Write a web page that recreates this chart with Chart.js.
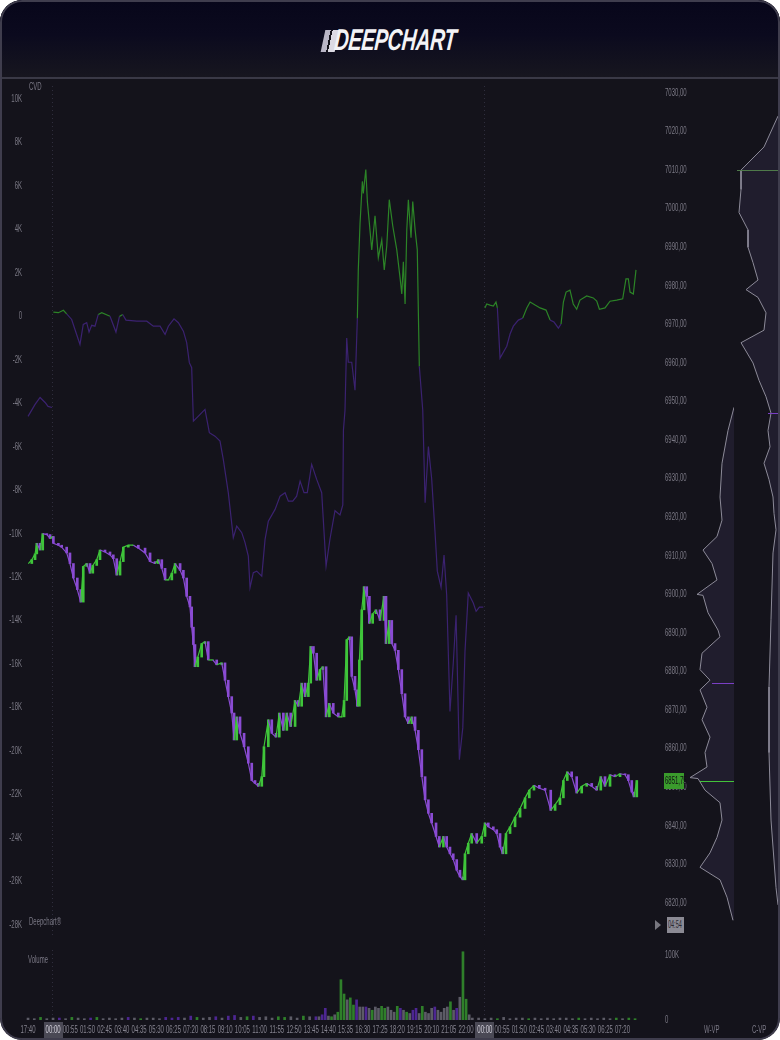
<!DOCTYPE html>
<html>
<head>
<meta charset="utf-8">
<script src="https://cdn.jsdelivr.net/npm/chart.js@4.4.0/dist/chart.umd.min.js"></script>
<style>
  html, body { margin: 0; padding: 0; background: #ffffff; }
  #frame { position: relative; width: 780px; height: 1040px; border-radius: 22px; overflow: hidden; background: #14131b;
           font-family: "Liberation Sans", Arial, sans-serif; }
  #header { position: absolute; left: 0; top: 0; width: 780px; height: 77px;
            background: linear-gradient(#07061a 0%, #0b0a1e 45%, #17161f 100%); border-bottom: 2px solid #3a3946; }
  #logoIcon { position: absolute; left: 323px; top: 30px; width: 14px; height: 22px; transform: skewX(-12deg);
              background: linear-gradient(90deg, #b9b6c6 0 38%, #14131b 38% 52%, #dcdae3 52% 100%); }
  #logoText { position: absolute; left: 336px; top: 23px; font: italic bold 30px "Liberation Sans", Arial, sans-serif;
              color: #f3f3f6; letter-spacing: -0.5px; transform-origin: 0 0; transform: scaleX(0.67) skewX(-8deg); }
  #border { position: absolute; left: 0; top: 0; width: 780px; height: 1040px; box-sizing: border-box; border: 2px solid #3f3d4d;
            border-radius: 22px; pointer-events: none; }
  canvas { position: absolute; }
  .lbl { position: absolute; color: #7a7885; font-size: 10px; white-space: nowrap; transform-origin: 0 0; transform: scaleX(0.6); }
  #timer { position: absolute; left: 667px; top: 917px; width: 17px; height: 16px; background: #8b8a94; }
  #timer span { position: absolute; left: 1px; top: 2px; color: #2a2930; font-size: 10px; transform-origin: 0 0; transform: scaleX(0.55); }
  #tri { position: absolute; left: 655px; top: 920px; width: 0; height: 0; border-top: 5px solid transparent;
         border-bottom: 5px solid transparent; border-left: 6px solid #77767f; }
</style>
</head>
<body>
<div id="frame">
  <div id="header"><div id="logoIcon"></div><div id="logoText">DEEPCHART</div></div>
  <canvas id="main" width="690" height="860" style="left:0;top:80px"></canvas>
  <canvas id="vol" width="690" height="100" style="left:0;top:940px"></canvas>
  <canvas id="wvp" width="48" height="860" style="left:686px;top:80px"></canvas>
  <canvas id="cvp" width="42" height="860" style="left:736px;top:80px"></canvas>
  <div class="lbl" style="left:29px;top:81px">CVD</div>
  <div class="lbl" style="left:29px;top:916px">Deepchart®</div>
  <div class="lbl" style="left:28px;top:954px">Volume</div>
  <div class="lbl" style="left:704px;top:1024px">W-VP</div>
  <div class="lbl" style="left:752px;top:1024px">C-VP</div>
  <div id="tri"></div>
  <div id="timer"><span>04:54</span></div>
  <div id="border"></div>
</div>
<script>
// bar index: one bar = 5 minutes, 0 = 17:40 of the first (short) session
const timeTickIdx = [0, 16, 27, 38, 49, 60, 71, 82, 93, 104, 115, 126, 137, 148, 159, 170, 181, 192, 203, 214, 225,
  236, 247, 258, 269, 280, 292, 303, 314, 325, 336, 347, 358, 369, 380];
const timeTickLabels = ['17:40', '00:00', '00:55', '01:50', '02:45', '03:40', '04:35', '05:30', '06:25', '07:20', '08:15',
  '09:10', '10:05', '11:00', '11:55', '12:50', '13:45', '14:40', '15:35', '16:30', '17:25', '18:20', '19:15', '20:10',
  '21:05', '22:00', '00:00', '00:55', '01:50', '02:45', '03:40', '04:35', '05:30', '06:25', '07:20'];
const sessionBreaks = [15.5, 291.5];

// CVD (cumulative volume delta), resets each session -> null = gap
const cvdIdx = [0, 4.5, 7.7, 10.9, 12.8, 15.3, 15.6,
  16.2, 19.4, 22.6, 24.7, 27.9, 30.0, 33.2, 35.3, 37.5, 39.0, 40.7, 42.8, 44.9, 47.1, 52.4, 56.2, 58.4, 60.5, 62.6,
  69.5, 75.9, 80.1, 84.4, 87.6, 89.7, 93.3, 96.1, 99.3, 101.4, 103.1, 104.6, 105.7, 108.9, 113.1, 115.9, 119.5, 122.7,
  124.8, 128.0, 131.2, 133.4, 136.6, 138.7, 140.8, 141.9, 144.0, 146.2, 149.4, 151.5, 153.6, 157.9, 161.1, 164.3, 166.4,
  169.2, 171.7, 173.9, 176.4, 178.5, 181.3, 184.5, 187.7, 190.5, 193.0, 196.2, 199.4, 201.2, 201.6, 202.6, 203.7, 204.7,
  206.9, 209.0, 210.5, 211.1, 212.2, 213.7, 214.3, 215.9, 216.9, 218.2, 219.7, 221.8, 223.9, 226.1, 227.7, 229.3, 230.9,
  233.1, 235.7, 237.8, 238.9, 239.9, 241.0, 242.1, 243.1, 244.8, 245.9, 247.4, 248.8, 250.1, 252.3, 253.8, 255.9, 258.0,
  260.1, 261.6, 264.0, 265.9, 267.6, 269.7, 271.8, 273.6, 275.7, 277.9, 279.3, 281.4, 284.6, 286.4, 288.5, 291.0, 291.4,
  292.0, 293.2, 295.3, 297.4, 299.1, 300.0, 301.7, 303.8, 306.0, 308.1, 310.2, 313.4, 316.2, 318.8, 320.9, 324.1, 327.3,
  331.1, 333.7, 336.2, 339.0, 340.7, 342.2, 343.9, 346.4, 348.5, 350.7, 352.8, 357.1, 361.3, 363.5, 365.2, 368.8, 372.0,
  376.3, 380.1, 382.2, 383.7, 384.8, 386.9, 388.6];
const cvdValues = [-4600, -4050, -3730, -3960, -4140, -4190, null,
  200, 170, 280, 120, -140, -600, -1290, -370, -290, -720, -410, -450, 90, 170, 10, -720, -10, 90, -170,
  -220, -220, -450, -450, -830, -450, -110, -290, -680, -1210, -2130, -2360, -4820, -4590, -4280, -5350, -5510, -5740,
  -6580, -8110, -10180, -9650, -9950, -10410, -11030, -12480, -11790, -11720, -11950, -10260, -9420, -8880, -8270, -8110, -8500,
  -8500, -8270, -7580, -8110, -8110, -6810, -7500, -8110, -11490, -10240, -8940, -9130, -8670, -5240, -4320, -1000, -2110,
  -2110, -3400, -80, 2140, 4260, 6210, 5660, 6760, 5280, 4260, 3060, 4630, 2700, 3520, 2140, 3250, 5370,
  4170, 3060, 1770, 1030, 2510, 570, 3990, 5370, 3620, 5280, 3990, 3060, -2300, -4320, -8570, -5990, -7470,
  -9870, -11720, -12460, -10980, -12830, -18180, -15960, -13750, -20400, -18920, -15410, -12730, -13190, -13570, -13380, -13380, null,
  390, 570, 520, 480, 660, 390, -1920, -1650, -1370, -810, -450, -170, -80, 390, 660, 520, 390,
  290, -170, -260, -540, -350, 660, 1120, 1210, 570, 330, 750, 940, 850, 700, 330, 390, 700,
  750, 810, 1730, 1730, 1120, 1030, 2140];

// price (ES, close of bars)
const priceIdx = [0.2, 2.4, 4.5, 5.6, 7.7, 9.4, 12.0, 14.1, 15.8, 16.2, 19.4, 21.5, 24.7, 26.8, 29.0, 31.5, 33.7, 35.3, 37.5, 39.6,
  41.4, 43.9, 46.0, 49.2, 52.4, 54.5, 56.7, 58.8, 60.9, 64.1, 67.3, 70.5, 74.8, 78.0, 81.2, 83.3, 85.5, 87.6, 89.7, 91.9,
  94.0, 97.2, 99.3, 101.4, 103.5, 104.6, 105.7, 106.7, 108.5, 111.0, 113.1, 115.2, 118.1, 120.6, 123.8, 125.9, 128.0, 130.2, 131.7, 133.4,
  135.5, 138.1, 140.8, 143.0, 145.1, 147.2, 149.4, 150.8, 153.6, 155.8, 158.5, 160.6, 163.2, 165.4, 167.9, 170.7, 172.8, 174.9, 177.1, 179.2,
  180.7, 182.4, 184.5, 186.6, 188.4, 190.5, 192.6, 195.1, 198.3, 200.5, 202.0, 203.7, 205.4, 206.9, 209.0, 210.5, 211.8, 213.3, 214.8, 216.5,
  218.2, 220.3, 222.4, 225.0, 227.5, 228.8, 230.9, 232.5, 234.6, 236.7, 238.9, 241.0, 243.1, 245.3, 247.4, 249.5, 251.7, 253.8, 255.9, 258.0,
  260.8, 262.9, 265.5, 267.6, 269.7, 271.8, 274.0, 276.1, 277.9, 279.3, 281.4, 283.6, 286.8, 290.0, 292.1, 294.2, 297.4, 299.6, 301.7, 303.4,
  305.5, 308.1, 311.3, 314.5, 317.7, 320.4, 323.4, 326.8, 330.5, 334.1, 336.9, 340.0, 342.2, 344.7, 347.5, 350.7, 353.9, 357.1, 360.3, 363.5,
  366.1, 368.8, 372.0, 375.2, 378.4, 381.6, 383.7, 385.9, 387.3, 389.1];
const priceValues = [6908, 6909, 6910.5, 6913.25, 6911.5, 6915.75, 6915.5, 6914.5, 6915, 6913.25,
  6912.75, 6912.25, 6910.75, 6908, 6904.25, 6901.25, 6898, 6907.25, 6908, 6905.5,
  6907.5, 6909, 6911.5, 6911, 6910.25, 6909.25, 6905, 6908.5, 6912.25, 6912.75,
  6912.75, 6912, 6910.75, 6908.5, 6908, 6909, 6906.75, 6903.75, 6903.75, 6905.5,
  6908, 6906.25, 6904.25, 6899.5, 6896.75, 6891.5, 6887, 6881.25, 6883.75, 6887.25,
  6887.75, 6883, 6883, 6881.75, 6882.25, 6877.75, 6873.5, 6869.25, 6862.25, 6868.25,
  6864, 6860.5, 6856.25, 6851.75, 6851, 6850.25, 6852.75, 6860.5, 6867.5, 6864,
  6863, 6869.25, 6864.75, 6869.25, 6865.75, 6872.5, 6871, 6877, 6873.5, 6877,
  6886.5, 6884.75, 6877.75, 6880.5, 6881.25, 6868.25, 6871.75, 6869.25, 6868.25, 6868.25,
  6872.5, 6888.25, 6889, 6878.75, 6875.25, 6871, 6883, 6896, 6902, 6899.5,
  6892.5, 6895, 6896, 6893.25, 6899.5, 6887.25, 6893.25, 6887.25, 6885.5, 6880.5,
  6874.25, 6868.25, 6866.5, 6868.25, 6864.75, 6859.75, 6852.75, 6846.75, 6843.25, 6840.75,
  6837.25, 6834.5, 6837.25, 6834.5, 6832.75, 6831.25, 6828.5, 6826.75, 6826, 6832.75,
  6835.5, 6838, 6835.5, 6837.25, 6840.75, 6839.75, 6839, 6838, 6834.5, 6832.75,
  6838, 6839.75, 6842.25, 6844.5, 6847.25, 6849.25, 6850.5, 6849.75, 6849.25, 6844,
  6845.5, 6847.25, 6851.75, 6854, 6852.75, 6848.5, 6850.25, 6851, 6850.25, 6849.25,
  6852.75, 6850.25, 6853.25, 6852.75, 6853.5, 6853.25, 6851.75, 6848.75, 6847.5, 6851.75];

// volume per bar (g = buy, p = sell, n = neutral)
const volIdx = [0, 4, 8, 12, 16, 20, 24, 28, 32, 36, 40, 44, 48, 52, 56, 60, 64, 68, 72, 76, 80, 84, 88, 92, 96, 100,
  104, 108, 112, 116, 120, 124, 128, 132, 136, 140, 144, 148, 152, 156, 160, 164, 168, 172, 176, 180, 184,
  186, 188, 190, 192, 194, 196, 198, 200, 202, 204, 206, 208, 210, 212, 214, 216, 218, 220, 222, 224, 226, 228, 230,
  232, 234, 236, 238, 240, 242, 244, 246, 248, 250, 252, 254, 256, 258, 260, 262, 264, 266, 268, 270, 272, 274, 276,
  278, 280, 282, 284,
  288, 292, 296, 300, 304, 308, 312, 316, 320, 324, 328, 332, 336, 340, 344, 348, 352, 356, 360, 364, 368, 372, 376,
  380, 384, 388];
const volValues = [3000, 2000, 4000, 2000, 3000, 3000, 2000, 4000, 3000, 2000, 3000, 4000, 2000, 3000, 2000, 3000, 4000,
  3000, 2000, 3000, 3000, 2000, 4000, 3000, 4000, 3000, 6000, 4000, 3000, 4000, 5000, 3000, 6000, 7000, 4000, 5000,
  6000, 4000, 5000, 3000, 5000, 4000, 5000, 3000, 6000, 5000, 5000,
  5000, 8000, 18000, 6000, 5000, 8000, 12000, 62000, 40000, 31000, 34000, 23000, 31000, 20000, 20000, 20000, 18000,
  15000, 20000, 18000, 21000, 18000, 20000, 15000, 12000, 21000, 18000, 15000, 12000, 10000, 15000, 18000, 10000,
  21000, 12000, 10000, 18000, 20000, 15000, 12000, 18000, 20000, 28000, 15000, 18000, 35000, 105000, 32000, 8000, 3000,
  3000, 2000, 3000, 2000, 4000, 2000, 3000, 3000, 2000, 3000, 2000, 3000, 2000, 3000, 3000, 2000, 3000, 2000, 3000,
  2000, 3000, 2000, 3000, 2000, 3000, 2000];
const volSide = ['n', 'n', 'g', 'n', 'n', 'p', 'n', 'g', 'n', 'n', 'p', 'g', 'n', 'n', 'n', 'n', 'p', 'n', 'g', 'n',
  'n', 'n', 'p', 'p', 'p', 'n', 'p', 'g', 'n', 'n', 'p', 'n', 'p', 'p', 'n', 'g', 'p', 'n', 'n', 'n', 'g', 'g', 'n',
  'n', 'g', 'n', 'p',
  'n', 'p', 'p', 'n', 'g', 'n', 'g', 'g', 'g', 'n', 'g', 'g', 'p', 'n', 'n', 'p', 'n', 'g', 'n', 'n', 'g', 'g', 'n',
  'n', 'n', 'g', 'p', 'n', 'g', 'n', 'p', 'p', 'n', 'g', 'n', 'n', 'n', 'p', 'n', 'n', 'n', 'n', 'g', 'n', 'p', 'n',
  'g', 'g', 'n', 'n',
  'n', 'n', 'n', 'g', 'n', 'n', 'n', 'n', 'g', 'n', 'n', 'n', 'n', 'n', 'n', 'n', 'g', 'n', 'n', 'n', 'n', 'n', 'g',
  'n', 'g', 'g'];

// volume profiles by price level (K contracts)
const wvpPrices = [6948.5, 6942.5, 6934, 6925.25, 6919.25, 6915, 6911.5, 6908, 6903.75, 6900, 6899.75, 6895.25, 6890.75,
  6889, 6884.75, 6880.5, 6877.75, 6875.25, 6870.75, 6867.5, 6863, 6859, 6855.25, 6852.5, 6852.25, 6849.25, 6846,
  6841.5, 6837, 6833, 6829.25, 6826, 6821.5, 6815.5];
const wvpVolumes = [0, 6, 12, 14, 12, 17, 31, 22, 17, 37, 31, 26, 16, 14, 32, 34, 24, 34, 27, 32, 24, 29, 27, 44, 36,
  29, 14, 12, 17, 24, 34, 14, 7, 1];
const cvpPrices = [7024, 7016, 7010, 7005, 6999, 6994.5, 6990, 6986, 6981.5, 6979, 6977, 6973, 6968.5, 6965.25, 6960,
  6955.5, 6951.25, 6947, 6942.5, 6938.25, 6934, 6929.75, 6925.25, 6921, 6916.75, 6910.75, 6893.5, 6876, 6859, 6841.5,
  6824, 6819.5];
const cvpVolumes = [0, 14, 37, 37, 39, 30, 30, 25, 20, 32, 20, 12, 14, 37, 25, 19, 12, 7, 10, 8, 14, 9, 5, 4, 2, 5, 7,
  9, 9, 7, 2, 0];
const wvpMarks = [[6877, 22]];
const cvpMarks = [[7010, 41], [6947, 10]];

const cvdTicks = [10000, 8000, 6000, 4000, 2000, 0, -2000, -4000, -6000, -8000, -10000, -12000, -14000, -16000,
  -18000, -20000, -22000, -24000, -26000, -28000];
const priceTicks = [7030, 7020, 7010, 7000, 6990, 6980, 6970, 6960, 6950, 6940, 6930, 6920, 6910, 6900, 6890, 6880,
  6870, 6860, 6850, 6840, 6830, 6820];

// ---- look ----
const X_MIN = -1.3, X_MAX = 406.5;
const PRICE_MIN = 6811.7, PRICE_MAX = 7031.8;
const SQUEEZE = 0.6;                      // the platform uses a very narrow font
const labelFont = '10px "Liberation Sans", Arial, sans-serif';
const tickColor = '#7a7884';
const upColor = '#3fc53a', downColor = '#8a4bd3';
const cvdUp = '#2c8427', cvdDown = '#3b2270';
const volColors = { g: '#2f7f2a', p: '#4d2692', n: '#5c5b66' };
const last = priceValues[priceValues.length - 1];

const fmtK = v => v === 0 ? '0' : (v / 1000) + 'K';
const fmtPrice = v => v.toFixed(2).replace('.', ',');

function narrowText(ctx, text, x, y, align, color, box) {
  ctx.save();
  ctx.font = labelFont;
  ctx.textBaseline = 'middle';
  const w = ctx.measureText(text).width * SQUEEZE;
  const left = align === 'right' ? x - w : align === 'center' ? x - w / 2 : x;
  if (box) {
    ctx.fillStyle = box;
    ctx.fillRect(Math.round(left) - 2, Math.round(y) - 8, Math.round(w) + 4, 16);
  }
  ctx.translate(left, y);
  ctx.scale(SQUEEZE, 1);
  ctx.fillStyle = color;
  ctx.textAlign = 'left';
  ctx.fillText(text, 0, 0);
  ctx.restore();
}

// draws the tick labels of the given axes with the narrow look
function tickPainter(axes) {
  return {
    id: 'tickPainter',
    afterDraw(chart) {
      const { ctx, chartArea } = chart;
      axes.forEach(a => {
        const scale = chart.scales[a.id];
        scale.ticks.forEach((t, i) => {
          const p = scale.getPixelForValue(t.value);
          const text = a.format(t.value, i);
          if (scale.isHorizontal()) {
            const special = text === '00:00';
            narrowText(ctx, text, p, chartArea.bottom + 10, 'center', special ? '#d0ced8' : '#85838f', special ? '#4a4955' : null);
          } else if (scale.position === 'left') {
            narrowText(ctx, text, chartArea.left - 4, p, 'right', tickColor);
          } else {
            narrowText(ctx, text, chartArea.right + 1, p, 'left', tickColor);
          }
        });
      });
    }
  };
}

const sessionLines = {
  id: 'sessionLines',
  beforeDatasetsDraw(chart) {
    const { ctx, chartArea, scales: { x } } = chart;
    ctx.save();
    ctx.strokeStyle = '#2f2e3d';
    ctx.setLineDash([1, 3]);
    sessionBreaks.forEach(v => {
      const px = Math.round(x.getPixelForValue(v)) + 0.5;
      ctx.beginPath();
      ctx.moveTo(px, chartArea.top);
      ctx.lineTo(px, chartArea.bottom);
      ctx.stroke();
    });
    ctx.restore();
  }
};

const priceTag = {
  id: 'priceTag',
  afterDraw(chart) {
    const { ctx, chartArea, scales: { yPrice } } = chart;
    const y = Math.round(yPrice.getPixelForValue(last));
    ctx.save();
    ctx.fillStyle = '#3a9b2c';
    ctx.fillRect(chartArea.right, y - 8, 20, 16);
    ctx.restore();
    narrowText(ctx, fmtPrice(last), chartArea.right + 1, y + 0.5, 'left', '#101014');
  }
};

const hiddenTicks = { display: false };

// ---- main pane: CVD (left) + price (right) ----
const candleData = priceIdx.slice(1).map((x, i) => ({ x, y: [priceValues[i], priceValues[i + 1]] }));
new Chart(document.getElementById('main'), {
  type: 'line',
  data: {
    datasets: [
      {
        label: 'Price',
        data: priceIdx.map((x, i) => ({ x, y: priceValues[i] })),
        yAxisID: 'yPrice',
        borderWidth: 1.2,
        pointRadius: 0,
        order: 0,
        segment: { borderColor: c => c.p1.parsed.y >= c.p0.parsed.y ? upColor : downColor }
      },
      {
        type: 'bar',
        label: 'Candles',
        data: candleData,
        yAxisID: 'yPrice',
        barThickness: 2,
        order: 1,
        backgroundColor: candleData.map(d => d.y[1] >= d.y[0] ? upColor : downColor)
      },
      {
        label: 'CVD',
        data: cvdIdx.map((x, i) => ({ x, y: cvdValues[i] })),
        yAxisID: 'yCvd',
        borderWidth: 1.2,
        pointRadius: 0,
        spanGaps: false,
        order: 2,
        segment: { borderColor: c => (c.p0.parsed.y + c.p1.parsed.y) / 2 >= 0 ? cvdUp : cvdDown }
      }
    ]
  },
  options: {
    responsive: false,
    animation: false,
    events: [],
    layout: { autoPadding: false, padding: { top: 6, bottom: 5, left: 0, right: 0 } },
    plugins: { legend: { display: false }, tooltip: { enabled: false } },
    scales: {
      x: { type: 'linear', min: X_MIN, max: X_MAX, display: false, offset: false },
      yCvd: {
        position: 'left', min: -28460, max: 10600,
        afterFit(s) { s.width = 26; },
        afterBuildTicks(s) { s.ticks = cvdTicks.map(v => ({ value: v })); },
        grid: { display: false, drawTicks: false }, border: { display: false }, ticks: hiddenTicks
      },
      yPrice: {
        position: 'right', min: PRICE_MIN, max: PRICE_MAX,
        afterFit(s) { s.width = 26; },
        afterBuildTicks(s) { s.ticks = priceTicks.map(v => ({ value: v })); },
        grid: { display: false, drawTicks: false }, border: { display: false }, ticks: hiddenTicks
      }
    }
  },
  plugins: [sessionLines, tickPainter([
    { id: 'yCvd', format: v => fmtK(v) },
    { id: 'yPrice', format: v => fmtPrice(v) }
  ]), priceTag]
});

// ---- volume pane ----
new Chart(document.getElementById('vol'), {
  type: 'bar',
  data: {
    datasets: [{
      label: 'Volume',
      data: volIdx.map((x, i) => ({ x, y: volValues[i] })),
      yAxisID: 'yVol',
      barThickness: 2,
      backgroundColor: volSide.map(s => volColors[s])
    }]
  },
  options: {
    responsive: false,
    animation: false,
    events: [],
    layout: { autoPadding: false, padding: { top: 10, bottom: 2 } },
    plugins: { legend: { display: false }, tooltip: { enabled: false } },
    scales: {
      x: {
        type: 'linear', min: X_MIN, max: X_MAX, offset: false,
        afterFit(s) { s.height = 18; },
        afterBuildTicks(s) { s.ticks = timeTickIdx.map(v => ({ value: v })); },
        grid: { display: false, drawTicks: false }, border: { display: false }, ticks: hiddenTicks
      },
      yLeft: {
        position: 'left', min: 0, max: 1,
        afterFit(s) { s.width = 26; },
        grid: { display: false, drawTicks: false }, border: { display: false }, ticks: hiddenTicks
      },
      yVol: {
        position: 'right', min: 0, max: 107700,
        afterFit(s) { s.width = 26; },
        afterBuildTicks(s) { s.ticks = [{ value: 0 }, { value: 100000 }]; },
        grid: { display: false, drawTicks: false }, border: { display: false }, ticks: hiddenTicks
      }
    }
  },
  plugins: [sessionLines, tickPainter([
    { id: 'x', format: (v, i) => timeTickLabels[i] },
    { id: 'yVol', format: v => v === 0 ? '0' : '100K' }
  ])]
});

// ---- volume profiles ----
function profile(id, prices, vols, maxVol, marks) {
  const markLines = {
    id: 'markLines',
    afterDatasetsDraw(chart) {
      const { ctx, chartArea, scales: { x, y } } = chart;
      ctx.save();
      marks.forEach(m => {
        const py = Math.round(y.getPixelForValue(m.price)) + 0.5;
        ctx.strokeStyle = m.color;
        ctx.lineWidth = 1;
        ctx.beginPath();
        ctx.moveTo(x.getPixelForValue(m.vol), py);
        ctx.lineTo(chartArea.right, py);
        ctx.stroke();
      });
      ctx.restore();
    }
  };
  new Chart(document.getElementById(id), {
    type: 'line',
    data: {
      datasets: [{
        data: prices.map((p, i) => ({ x: vols[i], y: p })),
        borderColor: '#8d8b99',
        borderWidth: 1,
        pointRadius: 0,
        fill: 'origin',
        backgroundColor: 'rgba(58, 54, 84, 0.32)'
      }]
    },
    options: {
      indexAxis: 'y',
      responsive: false,
      animation: false,
      events: [],
      layout: { autoPadding: false, padding: { top: 6, bottom: 5, left: 0, right: 0 } },
      plugins: { legend: { display: false }, tooltip: { enabled: false } },
      scales: {
        x: { type: 'linear', min: 0, max: maxVol, reverse: true, display: false },
        y: { type: 'linear', min: PRICE_MIN, max: PRICE_MAX, display: false }
      }
    },
    plugins: [markLines]
  });
}

profile('wvp', wvpPrices, wvpVolumes, 48, [
  { price: wvpMarks[0][0], vol: wvpMarks[0][1], color: '#7a3fc4' },
  { price: last, vol: 34, color: '#43c23a' }
]);
profile('cvp', cvpPrices, cvpVolumes, 42, [
  { price: cvpMarks[0][0], vol: cvpMarks[0][1], color: '#4f7a4a' },
  { price: cvpMarks[1][0], vol: cvpMarks[1][1], color: '#7a3fc4' }
]);
</script>
</body>
</html>
